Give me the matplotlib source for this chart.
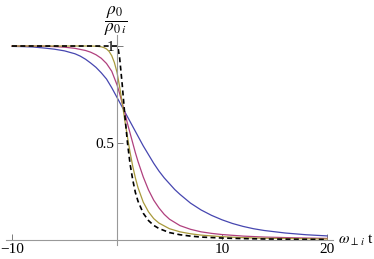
import numpy as np
import matplotlib
matplotlib.use('Agg')
import matplotlib.pyplot as plt

plt.rcParams['font.family'] = ['Liberation Serif', 'DejaVu Serif']
plt.rcParams['mathtext.fontset'] = 'stix'

# values
t_blue = [-10, -9, -8, -7, -6, -5, -4, -3.5, -3, -2.5, -2, -1.5, -1, -0.5, 0, 0.5, 1, 1.5, 2, 2.5,
          3, 3.5, 4, 4.5, 5, 5.5, 6, 7, 8, 9, 10, 11, 12, 13, 14, 16, 18, 20]
rho_blue = [0.998, 0.997, 0.995, 0.99, 0.984, 0.975, 0.96, 0.948, 0.932, 0.912, 0.89, 0.862, 0.83,
            0.785, 0.735, 0.685, 0.635, 0.585, 0.535, 0.485, 0.44, 0.395, 0.355, 0.32, 0.29, 0.26,
            0.235, 0.19, 0.155, 0.127, 0.104, 0.085, 0.07, 0.058, 0.049, 0.036, 0.027, 0.021]

t_mag = [-10, -7, -6, -5, -4, -3, -2.5, -2, -1.5, -1, -0.5, 0, 0.25, 0.5, 0.75, 1, 1.25, 1.5, 1.75,
         2, 2.5, 3, 3.5, 4, 4.5, 5, 6, 7, 8, 9, 10, 12, 14, 17, 20]
rho_mag = [1.0, 0.999, 0.997, 0.994, 0.988, 0.977, 0.968, 0.955, 0.937, 0.91, 0.87, 0.80, 0.755,
           0.705, 0.655, 0.60, 0.55, 0.50, 0.45, 0.405, 0.325, 0.258, 0.205, 0.165, 0.132, 0.107,
           0.074, 0.055, 0.042, 0.034, 0.028, 0.02, 0.015, 0.011, 0.008]

t_yel = [-10, -2.5, -2, -1.5, -1.25, -1, -0.75, -0.5, -0.25, 0, 0.25, 0.5, 0.75, 1, 1.25, 1.5, 1.75,
         2, 2.5, 3, 3.5, 4, 5, 6, 7, 8, 10, 12, 14, 17, 20]
rho_yel = [1.0, 1.0, 0.999, 0.996, 0.992, 0.985, 0.972, 0.95, 0.915, 0.865, 0.79, 0.705, 0.615,
           0.53, 0.45, 0.38, 0.32, 0.27, 0.195, 0.145, 0.11, 0.087, 0.058, 0.042, 0.032, 0.025,
           0.017, 0.012, 0.009, 0.007, 0.005]

t_dash = [-10, -1, 0, 0.1, 0.25, 0.5, 0.75, 1, 1.25, 1.5, 1.75, 2, 2.5, 3, 3.5, 4, 5, 6, 7, 8, 10,
          12, 14, 17, 20]
rho_dash = [1.0, 1.0, 1.0, 0.99, 0.94, 0.80, 0.64, 0.50, 0.39, 0.31, 0.245, 0.20, 0.138, 0.10,
            0.075, 0.059, 0.038, 0.027, 0.02, 0.015, 0.01, 0.007, 0.005, 0.0035, 0.0025]

xticks = [-10, 10, 20]
xtick_labels = ['\u221210', '10', '20']
yticks = [0.5, 1]
ytick_labels = ['0.5', '1']

fig = plt.figure(figsize=(3.74, 2.59), dpi=100)
ax = fig.add_axes([0.0152, 0.054, 0.876, 0.811])

ax.plot(t_blue, rho_blue, color='#4646b0', lw=0.9)
ax.plot(t_mag, rho_mag, color='#b0407e', lw=0.9)
ax.plot(t_yel, rho_yel, color='#a89a3c', lw=0.9)
ax.plot(t_dash, rho_dash, color='black', lw=1.2, ls=(0, (3, 2)))

ax.set_xlim(-10.6, 20.6)
ax.set_ylim(-0.026, 1.057)

for s in ['top', 'right']:
    ax.spines[s].set_visible(False)
ax.spines['left'].set_position(('data', 0))
ax.spines['bottom'].set_position(('data', 0))
for s in ['left', 'bottom']:
    ax.spines[s].set_color('#999999')
    ax.spines[s].set_linewidth(0.8)

ax.set_xticks(xticks)
ax.set_xticklabels(xtick_labels)
ax.set_yticks(yticks)
ax.set_yticklabels(ytick_labels)
ax.tick_params(axis='both', direction='in', length=4, width=0.6, color='#666666',
               labelsize=11, pad=2)

fig.text(116 / 374, 1 - 21 / 259, r'$\dfrac{\rho_0}{\rho_{0\,i}}$', ha='center', va='center',
         fontsize=12.5)
fig.text(338 / 374, 1 - 240 / 259, r'$\omega_{\perp\, i}$ t', ha='left', va='center', fontsize=11)

fig.savefig('out.png', dpi=100)
